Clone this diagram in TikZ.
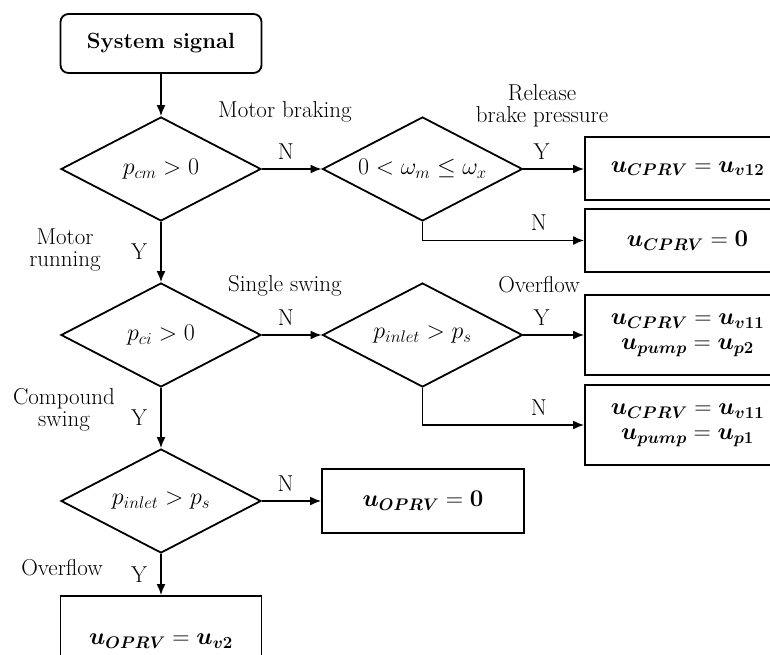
\RequirePackage{fix-cm}
\documentclass[tikz,border=0pt]{standalone}
\usepackage{amsmath,bm}
\usetikzlibrary{shapes.geometric,arrows.meta}
\begin{document}
\begin{tikzpicture}[x=1pt,y=-1pt,
  font=\fontsize{23}{22}\selectfont,
  line width=1.8pt,
  box/.style={draw,rectangle,inner sep=0pt,align=center,font=\fontsize{24}{25}\selectfont},
  dec/.style={draw,diamond,aspect=2,inner sep=0pt,minimum width=200pt,minimum height=104pt,font=\fontsize{24}{25}\selectfont},
  arr/.style={-{Latex[length=11pt,width=9pt]}},
  lbl/.style={inner sep=1pt,align=center},
  yn/.style={inner sep=1pt}]
\useasboundingbox (0,0) rectangle (770,655);
% process boxes and decisions
\node[box,rounded corners=8pt,minimum width=201pt,minimum height=59pt,font=\fontsize{22}{22}\selectfont\bfseries] (sys) at (161,43.5) {System signal};
\node[dec] (d1) at (161,169) {$p_{cm}>0$};
\node[dec] (d2) at (422.5,169) {$0<\omega_m\le\omega_x$};
\node[dec] (d3) at (161,335) {$p_{ci}>0$};
\node[dec] (d4) at (422.5,335) {$p_{inlet}>p_s$};
\node[dec] (d5) at (161,501) {$p_{inlet}>p_s$};
\node[box,minimum width=205pt,minimum height=63pt] (r1) at (687.5,168.5) {$\bm{u}_{\bm{CPRV}}=\bm{u}_{\bm{v12}}$};
\node[box,minimum width=205pt,minimum height=63pt] (r2) at (687.5,240.5) {$\bm{u}_{\bm{CPRV}}=\bm{0}$};
\node[box,minimum width=205pt,minimum height=80pt] (r3) at (687.5,335) {$\bm{u}_{\bm{CPRV}}=\bm{u}_{\bm{v11}}$\\$\bm{u}_{\bm{pump}}=\bm{u}_{\bm{p2}}$};
\node[box,minimum width=205pt,minimum height=80pt] (r4) at (687.5,425) {$\bm{u}_{\bm{CPRV}}=\bm{u}_{\bm{v11}}$\\$\bm{u}_{\bm{pump}}=\bm{u}_{\bm{p1}}$};
\node[box,minimum width=202pt,minimum height=64pt] (b5) at (423,501) {$\bm{u}_{\bm{OPRV}}=\bm{0}$};
\node[box,minimum width=201pt,minimum height=90pt] (b6) at (161,641) {$\bm{u}_{\bm{OPRV}}=\bm{u}_{\bm{v2}}$};
% connectors
\draw[arr] (sys) -- (d1);
\draw[arr] (d1) -- node[yn,above=8pt,pos=0.4] (n1) {N} (d2);
\draw[arr] (d2.east) -- node[yn,above=8pt,pos=0.3] (y1) {Y} (d2.east -| r1.west);
\draw[arr] (d2.south) |- node[yn,above=8pt,pos=0.86] (n2) {N} (r2.west);
\draw[arr] (d1) -- node[yn,left=12pt] (y2) {Y} (d3);
\draw[arr] (d3) -- node[yn,above=8pt,pos=0.4] (n3) {N} (d4);
\draw[arr] (d4.east) -- node[yn,above=8pt,pos=0.3] (y3) {Y} (d4.east -| r3.west);
\draw[arr] (d4.south) |- node[yn,above=8pt,pos=0.86] (n4) {N} (r4.west);
\draw[arr] (d3) -- node[yn,left=12pt] (y4) {Y} (d5);
\draw[arr] (d5) -- node[yn,above=8pt,pos=0.4] (n5) {N} (b5);
\draw[arr] (d5) -- node[yn,left=12pt] (y5) {Y} (b6);
% annotations
\node[lbl] (t1) at (285,112) {Motor braking};
\node[lbl] (t2) at (542,106) {Release\\brake pressure};
\node[lbl] (t3) at (65,250) {Motor\\running};
\node[lbl] (t4) at (285,286) {Single swing};
\node[lbl] (t5) at (539,285) {Overflow};
\node[lbl] (t6) at (64,410) {Compound\\swing};
\node[lbl] (t7) at (62,568) {Overflow};
\end{tikzpicture}
\end{document}
